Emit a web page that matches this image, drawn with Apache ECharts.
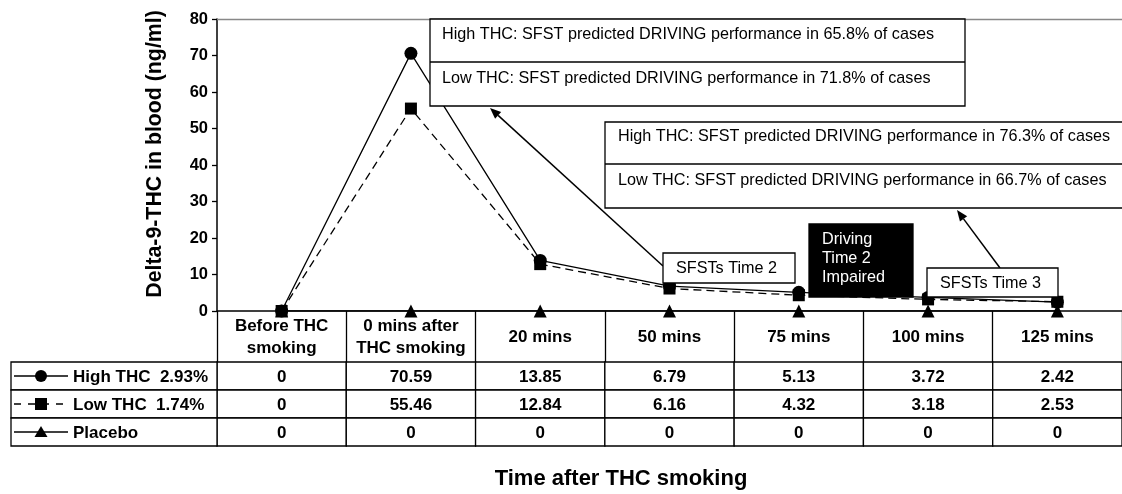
<!DOCTYPE html>
<html lang="en">
<head>
    <meta charset="UTF-8">
    <title>Delta-9-THC in blood</title>
    <script src="https://cdn.jsdelivr.net/npm/echarts@6/dist/echarts.min.js"></script>
    <style>
        body { margin: 0; background: #fff; }
    </style>
</head>
<body>
    <div id="main" style="width: 1122px;height:494px;"></div>
    <script type="text/javascript">
        // data
        const categories = ['Before THC\nsmoking', '0 mins after\nTHC smoking', '20 mins', '50 mins', '75 mins', '100 mins', '125 mins'];
        const highThc = [0, 70.59, 13.85, 6.79, 5.13, 3.72, 2.42];
        const lowThc = [0, 55.46, 12.84, 6.16, 4.32, 3.18, 2.53];
        const placebo = [0, 0, 0, 0, 0, 0, 0];
        const rowNames = ['High THC  2.93%', 'Low THC  1.74%', 'Placebo'];
        const rowKeys = ['high', 'low', 'placebo'];
        const rowValues = [highThc, lowThc, placebo];

        const FONT = 'Liberation Sans, Arial, sans-serif';

        let myChart = echarts.init(document.getElementById('main'));

        // cells of the data table
        const tableCells = [];
        rowValues.forEach((vals, r) => vals.forEach((v, c) => tableCells.push([c, r])));

        function renderCell(params, api) {
            const c = api.value(0), r = api.value(1);
            const p = api.coord([c, r]);
            const s = api.size([1, 1]);
            return {
                type: 'group',
                children: [
                    { type: 'rect', shape: { x: p[0] - s[0] / 2, y: p[1] - s[1] / 2, width: s[0], height: s[1] },
                      style: { fill: '#fff', stroke: '#000', lineWidth: 1.3 } },
                    { type: 'text', style: { x: p[0], y: p[1] + 1, text: String(rowValues[r][c]), align: 'center', verticalAlign: 'middle',
                      font: 'bold 17px ' + FONT, fill: '#000' } }
                ]
            };
        }

        function renderLegendCell(params, api) {
            const r = api.value(1);
            const p = api.coord([0, r]);
            const s = api.size([1, 1]);
            const x0 = p[0] - s[0] / 2, y0 = p[1] - s[1] / 2;
            const cy = p[1];
            const mx = x0 + 30;
            const children = [
                { type: 'rect', shape: { x: x0, y: y0, width: s[0], height: s[1] }, style: { fill: '#fff', stroke: '#000', lineWidth: 1.3 } },
                { type: 'line', shape: { x1: x0 + 3, y1: cy, x2: x0 + 57, y2: cy },
                  style: { stroke: '#000', lineWidth: 1.3, lineDash: r === 1 ? [7, 7] : null } }
            ];
            if (r === 0) children.push({ type: 'circle', shape: { cx: mx, cy: cy, r: 6 }, style: { fill: '#000' } });
            if (r === 1) children.push({ type: 'rect', shape: { x: mx - 6, y: cy - 6, width: 12, height: 12 }, style: { fill: '#000' } });
            if (r === 2) children.push({ type: 'polygon', shape: { points: [[mx, cy - 6], [mx - 6.5, cy + 5], [mx + 6.5, cy + 5]] }, style: { fill: '#000' } });
            children.push({ type: 'text', style: { x: x0 + 62, y: cy + 1, text: rowNames[r], align: 'left', verticalAlign: 'middle',
                font: 'bold 17px ' + FONT, fill: '#000' } });
            return { type: 'group', children: children };
        }

        function arrow(x1, y1, x2, y2) {
            const a = Math.atan2(y2 - y1, x2 - x1);
            const L = 11, W = 4.5;
            const bx = x2 - L * Math.cos(a), by = y2 - L * Math.sin(a);
            return {
                type: 'group', z: 100,
                children: [
                    { type: 'line', shape: { x1: x1, y1: y1, x2: bx, y2: by }, style: { stroke: '#000', lineWidth: 1.5 } },
                    { type: 'polygon', shape: { points: [[x2, y2],
                        [bx + W * Math.sin(a), by - W * Math.cos(a)],
                        [bx - W * Math.sin(a), by + W * Math.cos(a)]] }, style: { fill: '#000' } }
                ]
            };
        }

        function box(x, y, w, h, fill) {
            return { type: 'rect', z: 100, shape: { x: x, y: y, width: w, height: h },
                     style: { fill: fill || '#fff', stroke: '#000', lineWidth: 1.3 } };
        }

        function label(x, y, text, color) {
            return { type: 'text', z: 101, style: { x: x, y: y, text: text, font: '16.2px ' + FONT, fill: color || '#000',
                     verticalAlign: 'middle', lineHeight: 19 } };
        }

        const noAxis = { show: false };

        let options = {
            animation: false,
            grid: [
                { left: 217, top: 19, width: 910, height: 292 },
                { left: 217, top: 362, width: 910, height: 84 },
                { left: 11, top: 362, width: 206, height: 84 }
            ],
            xAxis: [
                {
                    type: 'category', gridIndex: 0, data: categories, position: 'bottom', boundaryGap: true,
                    axisLine: { show: true, lineStyle: { color: '#000', width: 1.5 } },
                    axisTick: { show: true, alignWithLabel: false, interval: 0, inside: false, length: 51, lineStyle: { color: '#000', width: 1.3 } },
                    axisLabel: { interval: 0, margin: 26, verticalAlign: 'middle', lineHeight: 22,
                                 color: '#000', fontWeight: 'bold', fontSize: 17, fontFamily: FONT }
                },
                {
                    type: 'category', gridIndex: 0, data: categories, position: 'top',
                    axisLine: { lineStyle: { color: '#888', width: 1.3 } },
                    axisTick: noAxis, axisLabel: noAxis
                },
                { type: 'category', gridIndex: 1, data: categories, show: false },
                { type: 'category', gridIndex: 2, data: ['legend'], show: false }
            ],
            yAxis: [
                {
                    type: 'value', gridIndex: 0, min: 0, max: 80, interval: 10,
                    axisLine: { show: true, lineStyle: { color: '#000', width: 1.5 } },
                    axisTick: { show: true, length: 5, lineStyle: { color: '#000', width: 1.3 } },
                    axisLabel: { margin: 9, color: '#000', fontWeight: 'bold', fontSize: 16.5, fontFamily: FONT },
                    splitLine: noAxis
                },
                { type: 'category', gridIndex: 1, data: rowKeys, inverse: true, show: false },
                { type: 'category', gridIndex: 2, data: rowKeys, inverse: true, show: false }
            ],
            series: [
                {
                    name: 'High THC 2.93%', type: 'line', xAxisIndex: 0, yAxisIndex: 0, data: highThc,
                    symbol: 'circle', symbolSize: 13, z: 3,
                    lineStyle: { color: '#000', width: 1.3 }, itemStyle: { color: '#000' }
                },
                {
                    name: 'Low THC 1.74%', type: 'line', xAxisIndex: 0, yAxisIndex: 0, data: lowThc,
                    symbol: 'rect', symbolSize: 12, z: 4,
                    lineStyle: { color: '#000', width: 1.3, type: [8, 5] }, itemStyle: { color: '#000' }
                },
                {
                    name: 'Placebo', type: 'line', xAxisIndex: 0, yAxisIndex: 0, data: placebo,
                    symbol: 'triangle', symbolSize: 13, z: 5,
                    lineStyle: { color: '#000', width: 1.3 }, itemStyle: { color: '#000' }
                },
                {
                    type: 'custom', xAxisIndex: 2, yAxisIndex: 1, data: tableCells,
                    renderItem: renderCell
                },
                {
                    type: 'custom', xAxisIndex: 3, yAxisIndex: 2, data: [[0, 0], [0, 1], [0, 2]],
                    renderItem: renderLegendCell
                }
            ],
            graphic: [
                // axis titles
                { type: 'text', rotation: Math.PI / 2, x: 155, y: 154,
                  style: { text: 'Delta-9-THC in blood (ng/ml)', font: 'bold 21.3px ' + FONT, fill: '#000', align: 'center', verticalAlign: 'middle' } },
                { type: 'text', x: 621, y: 479,
                  style: { text: 'Time after THC smoking', font: 'bold 22px ' + FONT, fill: '#000', align: 'center', verticalAlign: 'middle' } },

                // first SFST box
                box(430, 19, 535, 87),
                { type: 'line', z: 100, shape: { x1: 430, y1: 62, x2: 965, y2: 62 }, style: { stroke: '#000', lineWidth: 1.3 } },
                label(442, 35, 'High THC: SFST predicted DRIVING performance in 65.8% of cases'),
                label(442, 79, 'Low THC: SFST predicted DRIVING performance in 71.8% of cases'),

                // second SFST box
                box(605, 122, 530, 86),
                { type: 'line', z: 100, shape: { x1: 605, y1: 164, x2: 1122, y2: 164 }, style: { stroke: '#000', lineWidth: 1.3 } },
                label(618, 137, 'High THC: SFST predicted DRIVING performance in 76.3% of cases'),
                label(618, 181, 'Low THC: SFST predicted DRIVING performance in 66.7% of cases'),

                // small callouts
                box(663, 253, 132, 30),
                label(676, 269, 'SFSTs Time 2'),
                box(809, 224, 104, 73, '#000'),
                label(822, 259, 'Driving\nTime 2\nImpaired', '#fff'),
                box(927, 268, 131, 29),
                label(940, 284, 'SFSTs Time 3'),

                arrow(663, 266, 490, 108),
                arrow(1000, 268, 957, 210)
            ]
        };

        myChart.setOption(options);
    </script>
</body>
</html>
